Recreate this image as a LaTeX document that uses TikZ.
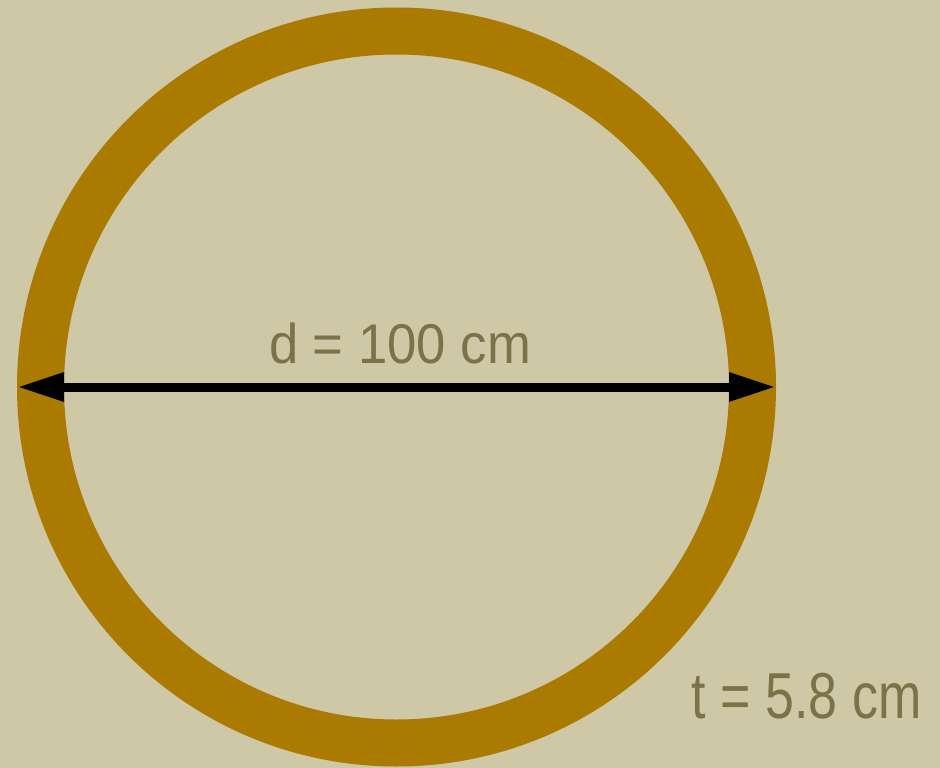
\documentclass[tikz,border=0pt]{standalone}
\usepackage{fontspec}
\setmainfont{Liberation Sans}
\usetikzlibrary{arrows.meta}
\definecolor{paper}{RGB}{207,200,166}
\definecolor{brass}{RGB}{170,123,0}
\definecolor{inkolive}{RGB}{124,114,72}

\begin{document}
\begin{tikzpicture}[
        x=1pt, y=-1pt,
        ring/.style={circle, draw=brass, line width=47pt, minimum size=712pt, inner sep=0pt},
        dimlabel/.style={text=inkolive, anchor=base, inner sep=0pt},
        dimarrow/.style={{Triangle[length=47pt, width=27pt]}-{Triangle[length=47pt, width=27pt]}, line width=9pt, black}
    ]
        % Background
        \fill[paper] (0,0) rectangle (940,768);
        \useasboundingbox (0,0) rectangle (940,768);

        % Pipe wall
        \node (pipe) [ring] at (396.5,387) {};

        % Diameter
        \draw [dimarrow] (pipe.west) -- (pipe.east);
        \node (dlabel) [dimlabel, font=\fontsize{56}{60}\selectfont, xscale=0.94] at (400,363) {d = 100 cm};

        % Wall thickness
        \node (tlabel) [dimlabel, font=\fontsize{65}{70}\selectfont, xscale=0.8] at (806.5,718) {t = 5.8 cm};
    \end{tikzpicture}
\end{document}
